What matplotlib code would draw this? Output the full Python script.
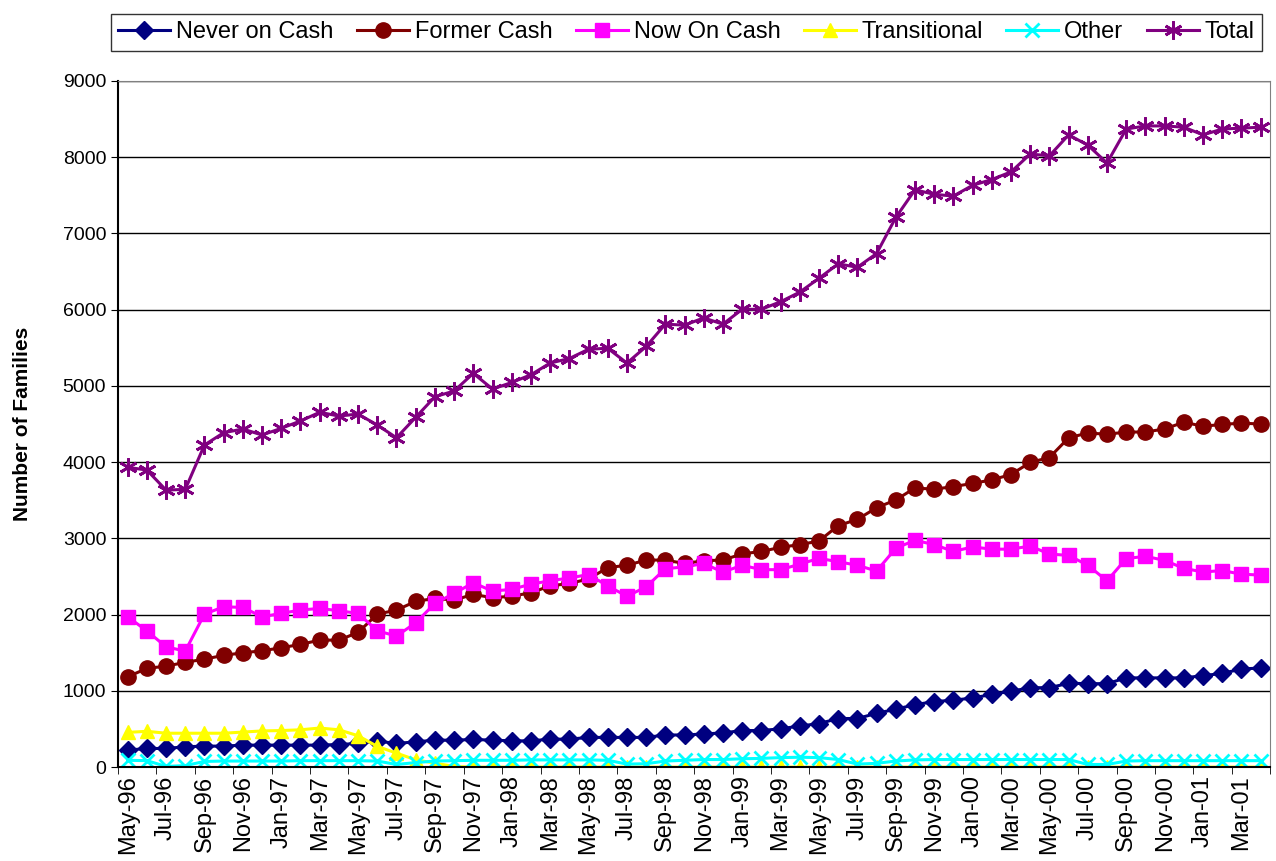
import matplotlib
matplotlib.use('Agg')
import matplotlib.pyplot as plt
import numpy as np

plt.rcParams['font.family'] = ['Liberation Sans', 'DejaVu Sans']

# months May-96 .. Apr-01
mon = ['Jan', 'Feb', 'Mar', 'Apr', 'May', 'Jun', 'Jul', 'Aug', 'Sep', 'Oct', 'Nov', 'Dec']
months = []
for k in range(60):
    m = (4 + k) % 12
    y = 96 + (4 + k) // 12
    months.append('%s-%02d' % (mon[m], y % 100))

never_on_cash = [223, 245, 245, 267, 276, 276, 289, 289, 289, 289, 289, 297, 311, 341, 311, 332,
                 354, 354, 363, 354, 345, 345, 367, 367, 390, 390, 390, 390, 422, 422, 435, 449,
                 480, 480, 503, 539, 571, 638, 638, 706, 760, 819, 860, 878, 907, 954, 995, 1042,
                 1042, 1100, 1095, 1095, 1171, 1171, 1171, 1171, 1200, 1229, 1288, 1300]
former_cash = [1185, 1295, 1325, 1374, 1417, 1466, 1500, 1526, 1566, 1610, 1666, 1666, 1767, 2007,
               2060, 2174, 2213, 2191, 2266, 2222, 2242, 2287, 2377, 2409, 2468, 2617, 2648, 2716,
               2716, 2671, 2707, 2716, 2797, 2829, 2883, 2919, 2965, 3168, 3249, 3403, 3504, 3662,
               3645, 3680, 3721, 3768, 3838, 3997, 4061, 4319, 4383, 4366, 4395, 4395, 4436, 4524,
               4471, 4495, 4512, 4500]
now_on_cash = [1972, 1788, 1578, 1522, 2007, 2103, 2095, 1972, 2017, 2060, 2082, 2051, 2017, 1788,
               1719, 1893, 2148, 2279, 2418, 2309, 2332, 2400, 2445, 2481, 2526, 2377, 2242, 2364,
               2603, 2626, 2671, 2558, 2648, 2590, 2590, 2662, 2739, 2694, 2648, 2572, 2871, 2976,
               2918, 2830, 2888, 2859, 2859, 2900, 2795, 2777, 2648, 2443, 2736, 2765, 2712, 2607,
               2560, 2578, 2531, 2519]
transitional = [456, 470, 445, 445, 445, 445, 460, 475, 480, 490, 513, 490, 412, 272, 184, 96,
                53, 9] + [0] * 42
other = [90, 85, 10, 20, 75, 80, 80, 80, 80, 85, 85, 85, 85, 80, 35, 60, 80, 85, 90, 90,
         90, 95, 95, 95, 95, 90, 40, 45, 80, 90, 100, 100, 110, 115, 125, 130, 125, 100, 40, 50,
         80, 95, 100, 100, 100, 100, 100, 100, 100, 100, 35, 35, 80, 85, 85, 85, 85, 85, 85, 85]
total = [3932, 3897, 3634, 3643, 4225, 4386, 4435, 4356, 4444, 4540, 4654, 4605, 4631, 4487,
         4320, 4588, 4858, 4933, 5165, 4959, 5045, 5146, 5300, 5359, 5481, 5494, 5300, 5517,
         5810, 5797, 5892, 5810, 6005, 6005, 6104, 6230, 6411, 6601, 6556, 6736, 7209, 7572,
         7513, 7490, 7631, 7707, 7807, 8041, 8018, 8293, 8158, 7924, 8369, 8410, 8410, 8393,
         8293, 8369, 8381, 8393]

fig = plt.figure(figsize=(12.76, 8.61), dpi=100)
ax = fig.add_axes([0.0925, 0.109, 0.903, 0.797])

x = np.arange(len(months))
ax.plot(x, never_on_cash, color='#000080', marker='D', ms=9, lw=2.2, label='Never on Cash')
ax.plot(x, former_cash, color='#800000', marker='o', ms=11, lw=2.2, label='Former Cash')
ax.plot(x, now_on_cash, color='#FF00FF', marker='s', ms=10, lw=2.2, label='Now On Cash')
ax.plot(x, transitional, color='#FFFF00', marker='^', ms=10, lw=2.2, label='Transitional')
ax.plot(x, other, color='#00FFFF', marker='x', ms=10, mew=2, lw=2.2, label='Other')
ax.plot(x, total, color='#800080', marker=(6, 2, 0), ms=13, mew=2, lw=2.2, label='Total')

ax.set_xlim(-0.5, len(months) - 0.5)
ax.set_ylim(0, 9000)
ax.set_yticks(range(0, 9001, 1000))
ax.yaxis.grid(True, color='black', lw=1)
ax.set_axisbelow(True)
ax.tick_params(axis='y', labelsize=14, length=5, direction='out')

ax.set_xticks(x[::2])
ax.set_xticklabels(months[::2], rotation=90, fontsize=17)
ax.set_xticks(np.arange(-0.5, len(months), 2), minor=True)
ax.tick_params(axis='x', which='major', length=0, pad=6)
ax.tick_params(axis='x', which='minor', length=5)

for s in ['top', 'right']:
    ax.spines[s].set_color('#808080')
ax.spines['left'].set_linewidth(1.5)
ax.spines['bottom'].set_linewidth(1.5)

ax.set_ylabel('Number of Families', fontsize=15, fontweight='bold', labelpad=22)

leg = fig.legend(loc='upper left', bbox_to_anchor=(0.078, 0.947, 0.92, 0.05), mode='expand',
                 ncol=6, fontsize=17, frameon=True, fancybox=False, edgecolor='black',
                 handlelength=2.2, handletextpad=0.25, columnspacing=0.8, borderpad=0.3)
leg.get_frame().set_linewidth(1)

fig.savefig('out.png', dpi=100)
